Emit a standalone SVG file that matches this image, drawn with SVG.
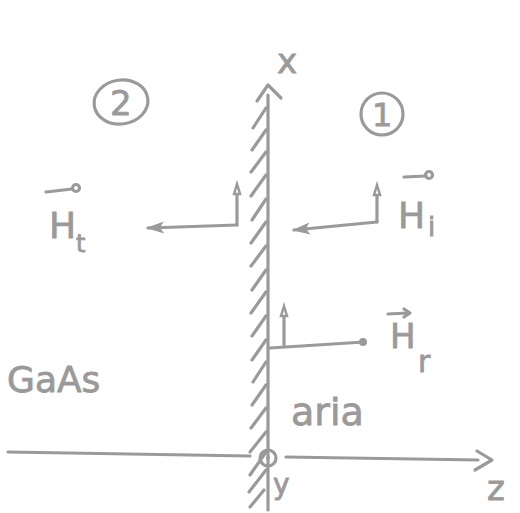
<svg xmlns="http://www.w3.org/2000/svg" width="520" height="513" viewBox="0 0 520 513">
<style>
.s{fill:none;stroke:#9a9a9a;stroke-width:3.2;stroke-linecap:round;stroke-linejoin:round}
.o{fill:#fff;stroke:#9a9a9a;stroke-width:2.5}
.t{fill:#9a9a9a;stroke:#9a9a9a;stroke-width:0.8;font-family:"DejaVu Sans","Liberation Sans",sans-serif}
</style>
<defs>
<marker id="fl" markerWidth="20" markerHeight="14" refX="17" refY="7" orient="auto" markerUnits="userSpaceOnUse">
<path d="M19 7 L1 1 L5 7 L1 13 Z" fill="#9a9a9a"/>
</marker>
<marker id="fr" markerWidth="10" markerHeight="10" refX="6" refY="5" orient="auto" markerUnits="userSpaceOnUse">
<circle cx="5" cy="5" r="4" fill="#9a9a9a"/>
</marker>
</defs>
<rect width="520" height="513" fill="#fff"/>
<g id="wall">
<path class="s" stroke-width="4" d="M268 95 L268 510"/>
<path class="s" d="M257 101 L268 85 L281 98"/>
<path class="s" d="M253 128 L266 108 M252 150 L266 130 M251 172 L266 152 M251 196 L266 175 M252 220 L266 199 M251 243 L266 222 M251 266 L266 246 M252 290 L266 270 M251 313 L266 292 M252 336 L266 316 M252 360 L266 340 M253 382 L266 362 M252 405 L266 385 M251 428 L266 408 M250 452 L266 432 M250 475 L266 452 M249 492 L266 470 M250 507 L264 490"/>
</g>
<g id="x-label"><text class="t" x="277" y="73" font-size="34">x</text></g>
<g id="region2">
<ellipse class="s" cx="121" cy="102" rx="27" ry="22" transform="rotate(-8 121 102)"/>
<text class="t" x="110" y="115" font-size="34">2</text>
</g>
<g id="region1">
<circle class="s" cx="382" cy="114" r="21"/>
<text class="t" x="372" y="126" font-size="32">1</text>
</g>
<g id="connectors">
<path class="s" d="M237 225 L237 192"/>
<path class="o" d="M234 194 L237 184 L240 194 Z"/>
<path class="s" d="M237 225 L148 228" marker-end="url(#fl)"/>
<path class="s" d="M377 222 L377 193"/>
<path class="o" d="M374 195 L377 185 L380 195 Z"/>
<path class="s" d="M377 222 L294 230" marker-end="url(#fl)"/>
<path class="s" d="M284 346 L284 314"/>
<path class="o" d="M281 316 L284 306 L287 316 Z"/>
<path class="s" d="M270 348 L364 342" marker-end="url(#fr)"/>
<path class="s" d="M8 452 L250 456 M286 457 L478 460"/>
<path class="s" d="M477 451 L492 460 L475 470"/>
</g>
<g id="Ht">
<path class="s" d="M46 192 L72 189"/><circle class="s" cx="76" cy="188" r="3.5"/>
<text class="t" x="49" y="238" font-size="36">H</text>
<text class="t" x="76" y="252" font-size="24">t</text>
</g>
<g id="Hi">
<path class="s" d="M404 177 L426 176"/><circle class="s" cx="429" cy="175" r="3.5"/>
<text class="t" x="398" y="228" font-size="36">H</text>
<text class="t" x="428" y="236" font-size="26">i</text>
</g>
<g id="Hr">
<path class="s" d="M388 314 L408 313"/><path class="s" d="M404 309 L410 313 L404 317"/>
<text class="t" x="390" y="348" font-size="34">H</text>
<text class="t" x="418" y="372" font-size="30">r</text>
</g>
<g id="gaas"><text class="t" x="7" y="392" font-size="36">GaAs</text></g>
<g id="aria"><text class="t" x="291" y="425" font-size="38">aria</text></g>
<g id="y-axis">
<circle class="s" cx="268" cy="458" r="8"/>
<circle cx="268" cy="458" r="2" fill="#9a9a9a"/>
<text class="t" x="273" y="494" font-size="28">y</text>
</g>
<g id="z-label"><text class="t" x="487" y="500" font-size="34">z</text></g>
</svg>
